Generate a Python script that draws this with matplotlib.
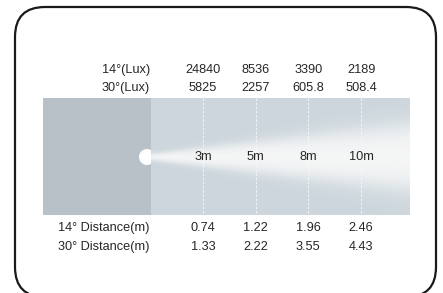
import numpy as np
import matplotlib
matplotlib.use("Agg")
import matplotlib.pyplot as plt
from matplotlib.patches import FancyBboxPatch, Rectangle, Circle

plt.rcParams["font.family"] = ["Liberation Sans", "DejaVu Sans"]

# data
distances = ["3m", "5m", "8m", "10m"]
lux_14 = [24840, 8536, 3390, 2189]
lux_30 = [5825, 2257, 605.8, 508.4]
dist_14 = [0.74, 1.22, 1.96, 2.46]
dist_30 = [1.33, 2.22, 3.55, 4.43]
row_labels = ["14°(Lux)", "30°(Lux)", "14° Distance(m)", "30° Distance(m)"]

text_color = "#262626"
dark_band = "#b9c1c8"
light_band = "#ccd6dc"

fig = plt.figure(figsize=(4.43, 2.93), dpi=100)
ax = fig.add_axes([0, 0, 1, 1])
ax.set_xlim(0, 443)
ax.set_ylim(293, 0)
ax.axis("off")

# rounded frame, bottom runs off the picture
frame = FancyBboxPatch((15, 7), 421, 290, boxstyle="round,pad=0,rounding_size=30",
                       facecolor="white", edgecolor="#1a1a1a", linewidth=1.6, zorder=1)
ax.add_patch(frame)

# band behind the beam
band_top, band_bottom = 98, 215
src_x, band_right = 151, 410
ax.add_patch(Rectangle((43, band_top), src_x - 43, band_bottom - band_top,
                       facecolor=dark_band, edgecolor="none", zorder=2))
ax.add_patch(Rectangle((src_x, band_top), band_right - src_x, band_bottom - band_top,
                       facecolor=light_band, edgecolor="none", zorder=2))

col_x = [203 + 52.7 * i for i in range(len(distances))]
for x in col_x:
    ax.plot([x, x], [band_top, band_bottom], color="white", lw=0.6,
            ls=(0, (3, 2)), alpha=0.85, zorder=3)

# light beam as a soft white cone
beam_y = 157
xs = np.linspace(src_x, band_right, 260)
ys = np.linspace(band_top, band_bottom, 118)
X, Y = np.meshgrid(xs, ys)
t = (X - src_x) / (band_right - src_x)
half = 3 + 29 * t
soft = 0.5 + 0.22 * half
alpha = 1 / (1 + np.exp((np.abs(Y - beam_y) - half) / soft))
rgba = np.ones(X.shape + (4,))
rgba[..., :3] = 0.975
rgba[..., 3] = alpha * 0.95
ax.imshow(rgba, extent=[src_x, band_right, band_bottom, band_top],
          aspect="auto", interpolation="bilinear", zorder=4)

# lamp head
lamp = Circle((147, beam_y), 8, facecolor="white", edgecolor="none", zorder=5)
ax.add_patch(lamp)
lamp.set_clip_path(Rectangle((130, 140), src_x - 130, 40, transform=ax.transData))

# text rows
row_y = [70, 88, 228, 247]
rows = [lux_14, lux_30, dist_14, dist_30]
fs = 9.2
for label, y, vals in zip(row_labels, row_y, rows):
    ax.text(150, y, label, ha="right", va="center", fontsize=fs, color=text_color, zorder=6)
    for x, v in zip(col_x, vals):
        ax.text(x, y, f"{v:g}", ha="center", va="center", fontsize=fs,
                color=text_color, zorder=6)

for x, d in zip(col_x, distances):
    ax.text(x, beam_y, d, ha="center", va="center", fontsize=fs, color=text_color, zorder=6)

fig.savefig("out.png", dpi=100)
